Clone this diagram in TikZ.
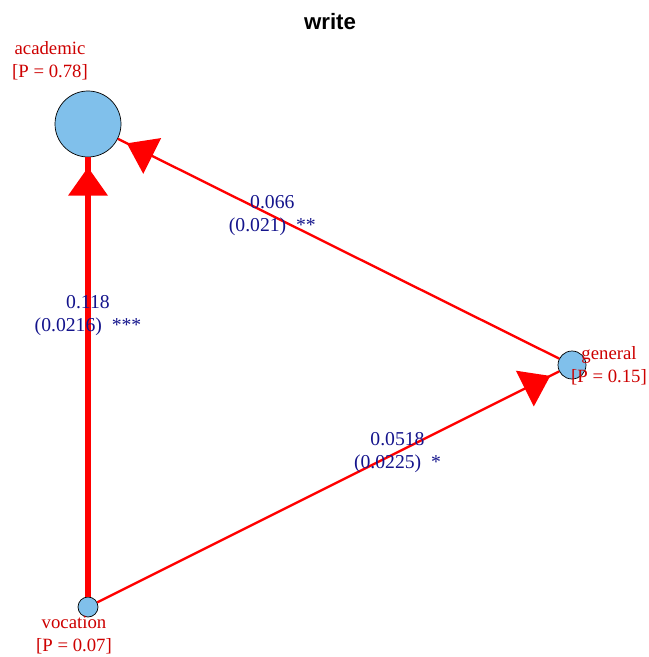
\documentclass[tikz,border=0pt]{standalone}
\usepackage{fontspec}
\setmainfont{Liberation Serif}
\newfontfamily\titlefont{Liberation Sans}
\usetikzlibrary{arrows.meta,decorations.markings}
\definecolor{nodeblue}{RGB}{128,192,235}
\definecolor{labelred}{RGB}{205,0,0}
\definecolor{estblue}{RGB}{20,20,140}

\begin{document}
\begin{tikzpicture}[scale=0.3]
\tikzstyle{every node}+=[inner sep=0pt]
\tikzstyle{var}=[circle,draw=black,line width=0.6pt,fill=nodeblue]
\tikzstyle{varlabel}=[text=labelred,align=center,font=\fontsize{16}{19.6}\selectfont]
\tikzstyle{est}=[text=estblue,align=center,font=\fontsize{16.8}{20}\selectfont]
\tikzstyle{regline}=[draw=red,color=red,line width=2pt,postaction={decorate},
  decoration={markings,mark=at position -0.3cm with
  {\arrow{Triangle[length=0.85cm,width=1.2cm,line width=0pt]}}}]
\useasboundingbox (0,0) rectangle (64.8,-65.7);
% title
\node[font=\titlefont\bfseries\fontsize{19}{23}\selectfont] (title) at (33.0,-2.2) {write};
% variables
\node[var,minimum size=1.98cm] (academic) at (8.8,-12.4) {};
\node[var,minimum size=0.84cm] (general) at (57.2,-36.5) {};
\node[var,minimum size=0.6cm] (vocation) at (8.8,-60.7) {};
% regressions
\draw[regline] (general) -- (academic) node[est,pos=0.65] (estga) {0.066\\(0.021)~~**};
\draw[regline,line width=5pt] (vocation) -- (academic) node[est,pos=0.64] (estva) {0.118\\(0.0216)~~***};
\draw[regline] (vocation) -- (general) node[est,pos=0.65] (estvg) {0.0518\\(0.0225)~~*};
% variable labels
\node[varlabel] (academiclab) at (5.0,-6.05) {academic\\{[P = 0.78]}};
\node[varlabel] (generallab) at (60.9,-36.6) {general\\{[P = 0.15]}};
\node[varlabel] (vocationlab) at (7.4,-63.55) {vocation\\{[P = 0.07]}};
\end{tikzpicture}
\end{document}
